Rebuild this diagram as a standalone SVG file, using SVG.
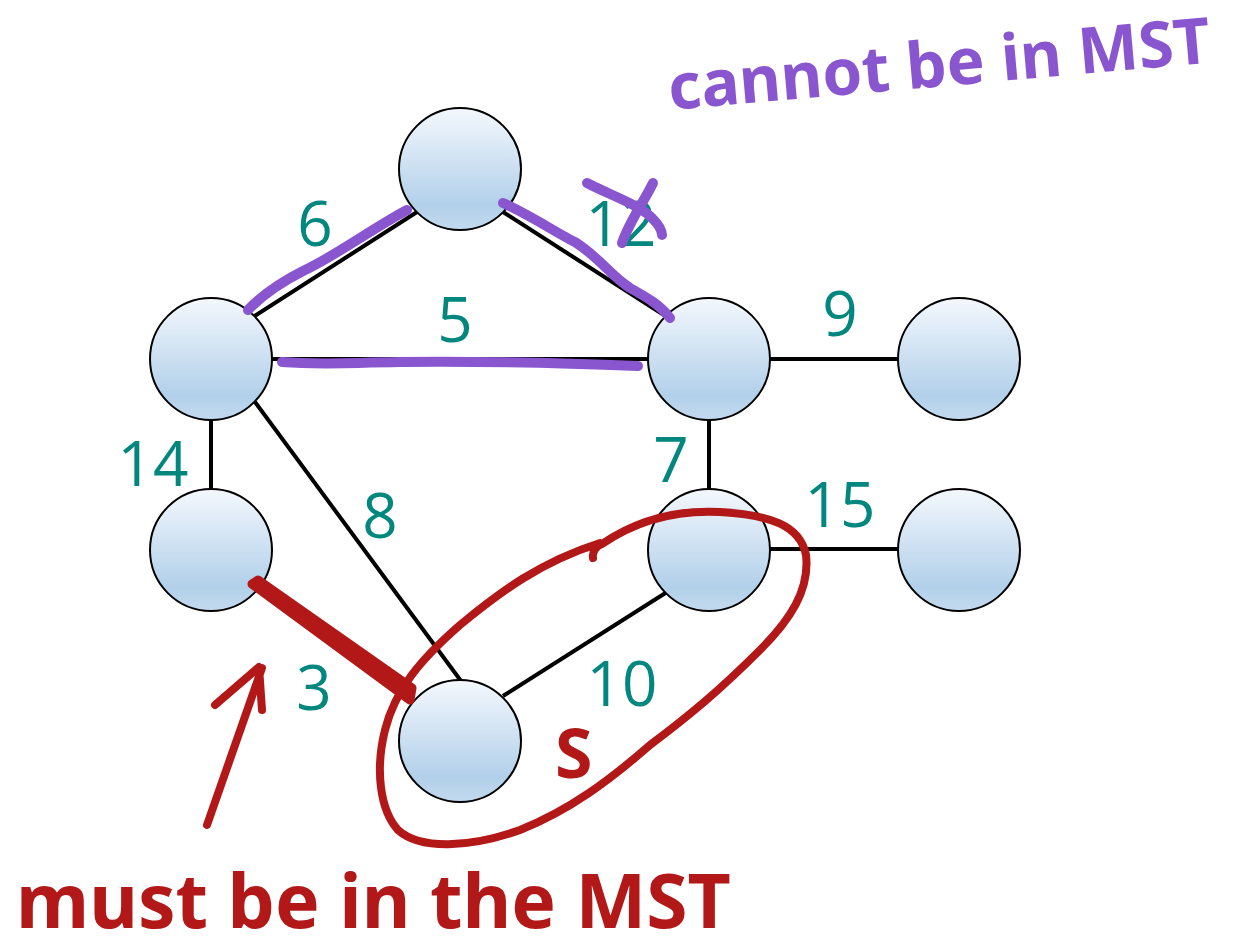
<svg xmlns="http://www.w3.org/2000/svg" width="1238" height="947" viewBox="0 0 1238 947">
<defs>
<linearGradient id="g" x1="0" y1="0" x2="0" y2="1">
<stop offset="0" stop-color="#F4F8FD"/>
<stop offset="0.8" stop-color="#B2D0EA"/>
<stop offset="1" stop-color="#C3DAEE"/>
</linearGradient>
</defs>
<style>
.n{fill:url(#g);stroke:#000;stroke-width:2}
.e{stroke:#000;stroke-width:4;fill:none}
.w{font-family:"Open Sans","Noto Sans",sans-serif;font-size:62px;fill:#02877F;text-anchor:middle}
.p{stroke:#8A56CF;stroke-width:10;fill:none;stroke-linecap:round;stroke-linejoin:round}
.r{stroke:#B31818;stroke-width:8;fill:none;stroke-linecap:round;stroke-linejoin:round}
.hp{font-family:"Noto Sans","Liberation Sans",sans-serif;font-weight:bold;fill:#8A56CF}
.hr{font-family:"Noto Sans","Liberation Sans",sans-serif;font-weight:bold;fill:#B31818}
</style>
<rect width="1238" height="947" fill="#fff"/>
<g id="connectors">
<line class="e" x1="253" y1="317" x2="417" y2="212"/>
<line class="e" x1="503" y1="212" x2="667" y2="317"/>
<line class="e" x1="272" y1="359" x2="648" y2="359"/>
<line class="e" x1="770" y1="359" x2="898" y2="359"/>
<line class="e" x1="211" y1="420" x2="211" y2="489"/>
<line class="e" x1="709" y1="420" x2="709" y2="489"/>
<line class="e" x1="770" y1="549" x2="898" y2="549"/>
<line class="e" x1="255" y1="402" x2="461" y2="681"/>
<line class="e" x1="667" y1="592" x2="503" y2="696"/>
<line class="e" x1="257" y1="587" x2="407" y2="692"/>
</g>
<g id="n-top"><circle class="n" cx="460" cy="169" r="61"/></g>
<g id="n-a"><circle class="n" cx="211" cy="359" r="61"/></g>
<g id="n-b"><circle class="n" cx="709" cy="359" r="61"/></g>
<g id="n-c"><circle class="n" cx="959" cy="359" r="61"/></g>
<g id="n-d"><circle class="n" cx="211" cy="550" r="61"/></g>
<g id="n-e"><circle class="n" cx="709" cy="550" r="61"/></g>
<g id="n-f"><circle class="n" cx="959" cy="550" r="61"/></g>
<g id="n-g"><circle class="n" cx="460" cy="741" r="61"/></g>
<g id="labels">
<text class="w" x="315" y="246">6</text>
<text class="w" x="621" y="246">12</text>
<text class="w" x="455" y="342">5</text>
<text class="w" x="840" y="336">9</text>
<text class="w" x="153" y="486">14</text>
<text class="w" x="671" y="482">7</text>
<text class="w" x="840" y="527">15</text>
<text class="w" x="380" y="538">8</text>
<text class="w" x="622" y="706">10</text>
<text class="w" x="314" y="710">3</text>
</g>
<g id="annotations">
<path class="p" d="M248,310 C265,292 285,280 305,270 C335,256 370,230 407,210"/>
<path class="p" d="M503,203 C530,215 560,235 575,242 C600,258 610,275 630,288 C648,298 660,305 670,318"/>
<path class="p" d="M282,362 C320,365 340,363 400,362 C480,361 560,363 638,366"/>
<path class="p" d="M587,183 C610,195 640,205 652,218 C660,226 662,232 662,235"/>
<path class="p" d="M653,183 C645,200 630,220 622,243"/>
<text class="hp" font-size="64" transform="translate(670,110) rotate(-5)">cannot be in MST</text>
<path d="M252,584 L258,580 L412,688 L410,700 Z" fill="#B31818" stroke="#B31818" stroke-width="9" stroke-linejoin="round"/>
<path class="r" d="M593,558 C592,552 596,546 602,544 C640,518 680,510 720,512 C770,515 800,525 806,555 C810,590 790,620 760,650 C720,690 690,715 650,745 C610,780 570,810 520,830 C470,848 420,850 398,830 C380,810 375,770 385,730 C395,690 420,660 460,625 C500,592 540,562 600,543"/>
<path class="r" stroke-width="9" d="M207,825 L262,668 M215,705 L259,667 L262,710"/>
<text class="hr" font-size="68" x="555" y="778">S</text>
<text class="hr" font-size="75" x="16" y="928">must be in the MST</text>
</g>
</svg>
